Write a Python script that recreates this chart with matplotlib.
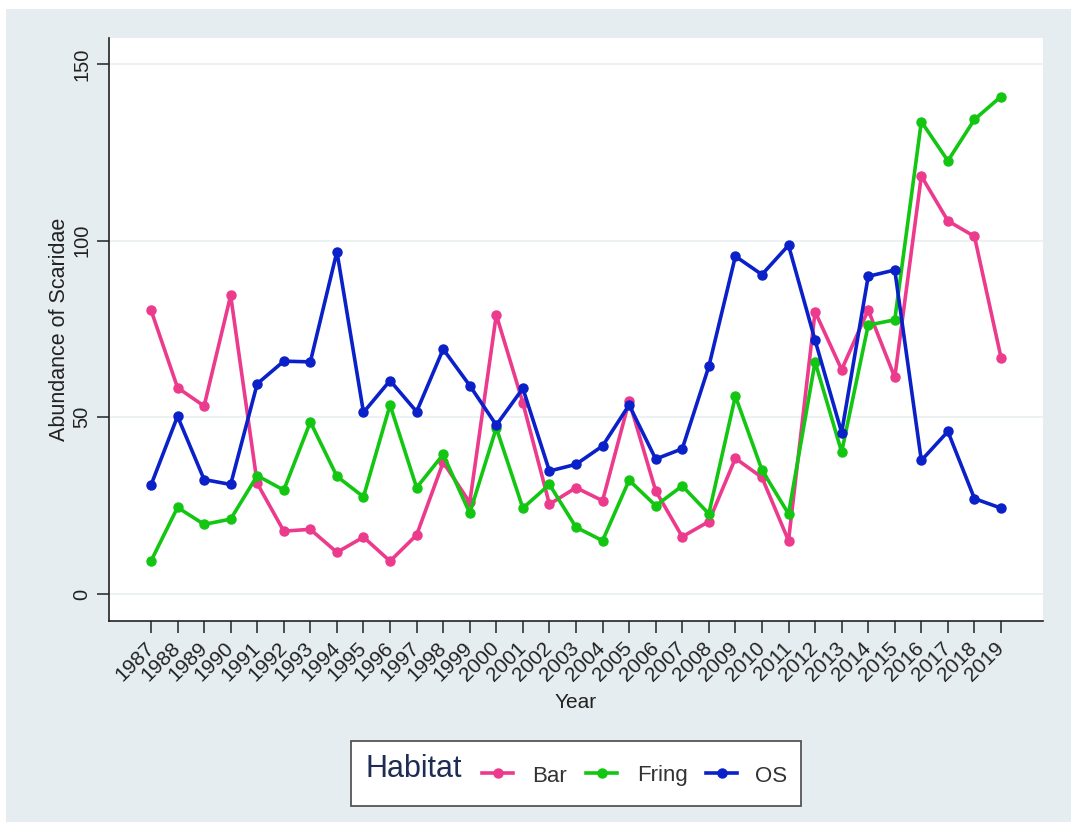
import matplotlib
matplotlib.use("Agg")
import matplotlib.pyplot as plt
from matplotlib.patches import Rectangle
from matplotlib.lines import Line2D

plt.rcParams['font.family'] = ['Liberation Sans', 'DejaVu Sans']

years = list(range(1987, 2020))
bar = [80.4, 58.4, 53.2, 84.5, 31.3, 17.8, 18.3, 11.8, 16.1, 9.3, 16.7, 37.3, 25.9,
       79.0, 54.1, 25.4, 30.1, 26.4, 54.6, 29.2, 16.2, 20.5, 38.4, 33.0, 15.1, 79.9,
       63.5, 80.4, 61.3, 118.3, 105.6, 101.2, 66.9]
fring = [9.3, 24.5, 19.7, 21.2, 33.5, 29.4, 48.7, 33.3, 27.5, 53.5, 30.1, 39.5, 22.9,
         47.0, 24.3, 31.0, 18.9, 15.1, 32.2, 25.0, 30.6, 22.7, 56.0, 35.1, 22.7, 65.7,
         40.2, 76.1, 77.6, 133.7, 122.6, 134.3, 140.8]
os_ = [30.8, 50.3, 32.4, 31.0, 59.5, 65.9, 65.7, 96.9, 51.4, 60.4, 51.6, 69.3, 59.0,
       47.8, 58.2, 34.8, 36.7, 41.9, 53.5, 38.2, 41.1, 64.4, 95.6, 90.4, 98.7, 71.8,
       45.7, 89.9, 91.7, 37.8, 46.0, 27.0, 24.3]
series_names = ["Bar", "Fring", "OS"]
yticks = [0, 50, 100, 150]

colors = ['#EC3A8C', '#12C612', '#0A20C8']
W, H = 1071, 825
fig = plt.figure(figsize=(W / 100, H / 100), dpi=100, facecolor='white')
bg = '#e6edf1'
fig.patches.append(Rectangle((6 / W, 3 / H), 1 - 6 / W, 1 - 12 / H, transform=fig.transFigure,
                             facecolor=bg, edgecolor='none', zorder=-10))

ax = fig.add_axes([109 / W, 1 - 621 / H, (1043 - 109) / W, (621 - 38) / H])
ax.set_facecolor('white')

for vals, c in zip([bar, fring, os_], colors):
    ax.plot(years, vals, color=c, lw=2.6, marker='o', ms=6.5, zorder=3)

ax.set_xlim(1985.42, 2020.58)
ax.set_ylim(-7.64, 157.36)
ax.set_yticks(yticks)
ax.set_yticklabels([str(v) for v in yticks], rotation=90, va='center', fontsize=14.5)
ax.set_xticks(years)
ax.set_xticklabels([str(y) for y in years], rotation=45, ha='right', va='center',
                   rotation_mode='anchor', fontsize=15)
for g in yticks:
    ax.axhline(g, color='#eaf0f3', lw=1.3, zorder=1)

for s in ['top', 'right']:
    ax.spines[s].set_visible(False)
for s in ['left', 'bottom']:
    ax.spines[s].set_color('#222222')
    ax.spines[s].set_linewidth(1.2)
ax.tick_params(axis='both', length=8.6, width=1.1, color='#222222', labelcolor='#222222')
ax.tick_params(axis='y', pad=4)
ax.tick_params(axis='x', pad=9)

ax.set_ylabel("Abundance of Scaridae", fontsize=15.5, color='#222222')
ax.yaxis.set_label_coords((70 - 109) / (1043 - 109), 0.5)
ax.set_xlabel("Year", fontsize=15, color='#222222')
ax.xaxis.set_label_coords(0.5, -(693 - 621) / (621 - 38))

# legend
fig.patches.append(Rectangle((351 / W, 1 - 806 / H), 450 / W, 65 / H, transform=fig.transFigure,
                             facecolor='white', edgecolor='#555555', lw=1.3, zorder=5))
fig.text(366 / W, 1 - 777 / H, "Habitat", fontsize=22, color='#1f2d54', va='baseline',
         ha='left', zorder=6)
line_x = [(482, 513), (586, 617), (706, 737)]
text_x = [532, 637, 755]
ly = 1 - 773 / H
for (x0, x1), tx, c, name in zip(line_x, text_x, colors, series_names):
    fig.lines.append(Line2D([x0 / W, x1 / W], [ly, ly], transform=fig.transFigure,
                            color=c, lw=2.6, zorder=6))
    fig.lines.append(Line2D([(x0 + x1) / 2 / W], [ly], transform=fig.transFigure,
                            color=c, marker='o', ms=6.5, zorder=7))
    fig.text(tx / W, 1 - 781.5 / H, name, fontsize=16, color='#333333', va='baseline',
             ha='left', zorder=6)

fig.savefig("out.png", dpi=100, facecolor=fig.get_facecolor())
